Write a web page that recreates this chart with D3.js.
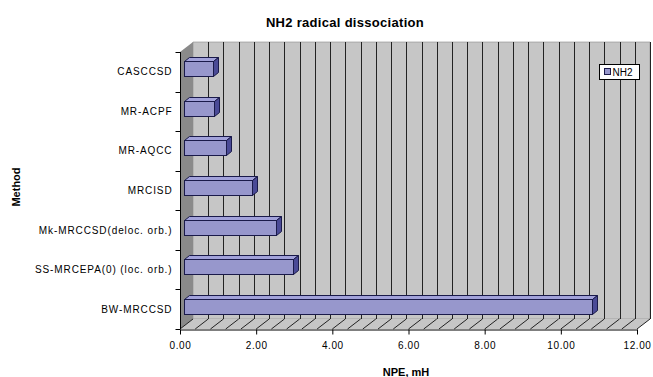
<!DOCTYPE html>
<html>
<head>
<meta charset="utf-8">
<script src="https://cdn.jsdelivr.net/npm/d3@7"></script>
<style>
  body { margin: 0; background: #fff; }
  text { font-family: "Liberation Sans", Arial, sans-serif; fill: #000; }
</style>
</head>
<body>
<svg id="chart" width="653" height="377"></svg>
<script>
var methods = [
  'CASCCSD',
  'MR-ACPF',
  'MR-AQCC',
  'MRCISD',
  'Mk-MRCCSD(deloc. orb.)',
  'SS-MRCEPA(0) (loc. orb.)',
  'BW-MRCCSD'
];
var npe = [0.75, 0.80, 1.09, 1.78, 2.42, 2.85, 10.71];
var xTicks = [0, 2, 4, 6, 8, 10, 12];
var seriesName = 'NH2';

var data = methods.map(function(m, i) { return { method: m, value: npe[i] }; });

// 3d depth of the plot box and of each bar
var depth = { dx: 13, dy: -10 };
var barOff = { dx: 4, dy: -3 };
var barDepth = { dx: 5, dy: -4 };

var svg = d3.select('#chart');

var x = d3.scaleLinear().domain([0, 12]).range([180, 637]);
var y = d3.scaleBand().domain(methods).range([52, 329]);

var pTop = y.range()[0], pBottom = y.range()[1];
var pLeft = x(0), pRight = x(12);

function pts(a) { return a.map(function(p) { return p.join(','); }).join(' '); }
function px(v) { return Math.round(v) + 0.5; }

// back wall
svg.append('polygon')
    .attr('points', pts([
      [pLeft + depth.dx, pTop + depth.dy], [pRight + depth.dx, pTop + depth.dy],
      [pRight + depth.dx, pBottom + depth.dy], [pLeft + depth.dx, pBottom + depth.dy]
    ]))
    .attr('fill', '#c6c6c6')
    .attr('stroke', '#8a8a8a')
    .attr('stroke-width', 0.6);

// floor
svg.append('polygon')
    .attr('points', pts([
      [pLeft, pBottom], [pRight, pBottom],
      [pRight + depth.dx, pBottom + depth.dy], [pLeft + depth.dx, pBottom + depth.dy]
    ]))
    .attr('fill', '#c6c6c6');

// left wall
svg.append('polygon')
    .attr('points', pts([
      [pLeft, pTop], [pLeft + depth.dx, pTop + depth.dy],
      [pLeft + depth.dx, pBottom + depth.dy], [pLeft, pBottom]
    ]))
    .attr('fill', '#8a8a8a');

// minor gridlines every 0.4
var grid = d3.range(0, 12.0001, 0.4);
svg.append('g').selectAll('line')
    .data(grid.slice(1))
    .enter().append('line')
    .attr('x1', function(d) { return px(x(d) + depth.dx); })
    .attr('x2', function(d) { return px(x(d) + depth.dx); })
    .attr('y1', pTop + depth.dy)
    .attr('y2', pBottom + depth.dy)
    .attr('stroke', '#222')
    .attr('stroke-width', 1);

svg.append('g').selectAll('line')
    .data(grid)
    .enter().append('line')
    .attr('x1', function(d) { return x(d); })
    .attr('x2', function(d) { return x(d) + depth.dx; })
    .attr('y1', pBottom)
    .attr('y2', pBottom + depth.dy)
    .attr('stroke', '#222')
    .attr('stroke-width', 1);

// bars
var bh = y.bandwidth() * 0.38;
var bars = svg.append('g').selectAll('g')
    .data(data)
    .enter().append('g');

bars.each(function(d) {
  var g = d3.select(this);
  var x0 = px(x(0) + barOff.dx), x1 = px(x(d.value) + barOff.dx);
  var y0 = px(y(d.method) + (y.bandwidth() - bh) / 2 + barOff.dy), y1 = y0 + Math.round(bh);
  g.append('polygon')
      .attr('points', pts([[x0, y0], [x0 + barDepth.dx, y0 + barDepth.dy],
        [x1 + barDepth.dx, y0 + barDepth.dy], [x1, y0]]))
      .attr('fill', '#a2a2da')
      .attr('stroke', '#1a1a4a').attr('stroke-width', 1);
  g.append('polygon')
      .attr('points', pts([[x1, y0], [x1 + barDepth.dx, y0 + barDepth.dy],
        [x1 + barDepth.dx, y1 + barDepth.dy], [x1, y1]]))
      .attr('fill', '#4a4a96')
      .attr('stroke', '#1a1a4a').attr('stroke-width', 1);
  g.append('rect')
      .attr('x', x0).attr('y', y0)
      .attr('width', x1 - x0).attr('height', y1 - y0)
      .attr('fill', '#9797cc')
      .attr('stroke', '#1a1a4a').attr('stroke-width', 1);
});

// axes
var xAxis = d3.axisBottom(x).tickValues(xTicks).tickSize(5).tickSizeOuter(0)
    .tickFormat(d3.format('.2f'));
var gx = svg.append('g')
    .attr('transform', 'translate(0,' + (pBottom + 0.5) + ')')
    .call(xAxis);
gx.select('.domain').attr('stroke', '#000');
gx.selectAll('.tick line').attr('stroke', '#000');
gx.selectAll('.tick text')
    .attr('y', 12)
    .style('font-size', '10px')
    .style('letter-spacing', '0.6px')
    .style('font-family', '"Liberation Sans", Arial, sans-serif')
    .attr('fill', '#000');

var gy = svg.append('g').attr('transform', 'translate(' + (pLeft + 0.5) + ',0)');
gy.append('line')
    .attr('x1', 0).attr('x2', 0).attr('y1', pTop).attr('y2', pBottom)
    .attr('stroke', '#000');
gy.selectAll('line.tick')
    .data(d3.range(methods.length + 1))
    .enter().append('line')
    .attr('class', 'tick')
    .attr('x1', -5).attr('x2', 0)
    .attr('y1', function(i) { return px(pTop + i * y.step()); })
    .attr('y2', function(i) { return px(pTop + i * y.step()); })
    .attr('stroke', '#000');
gy.selectAll('text')
    .data(methods)
    .enter().append('text')
    .attr('x', -8)
    .attr('y', function(d) { return y(d) + y.bandwidth() / 2; })
    .attr('dy', '0.35em')
    .attr('text-anchor', 'end')
    .style('font-size', '10px')
    .style('letter-spacing', '0.9px')
    .text(function(d) { return d; });

// titles
svg.append('text')
    .attr('x', 345).attr('y', 27)
    .attr('text-anchor', 'middle')
    .style('font-size', '13px').style('font-weight', 'bold')
    .style('letter-spacing', '0.3px')
    .text('NH2 radical dissociation');

svg.append('text')
    .attr('x', 406).attr('y', 376)
    .attr('text-anchor', 'middle')
    .style('font-size', '11px').style('font-weight', 'bold')
    .text('NPE, mH');

svg.append('text')
    .attr('transform', 'translate(20,187) rotate(-90)')
    .attr('text-anchor', 'middle')
    .style('font-size', '11px').style('font-weight', 'bold')
    .text('Method');

// legend
var lg = svg.append('g').attr('transform', 'translate(599.5,64.5)');
lg.append('rect')
    .attr('width', 40).attr('height', 15)
    .attr('fill', '#fff').attr('stroke', '#000');
lg.append('rect')
    .attr('x', 5).attr('y', 4).attr('width', 6).attr('height', 6)
    .attr('fill', '#9797cc').attr('stroke', '#1a1a4a');
lg.append('text')
    .attr('x', 13).attr('y', 11)
    .style('font-size', '10px')
    .text(seriesName);
</script>
</body>
</html>
